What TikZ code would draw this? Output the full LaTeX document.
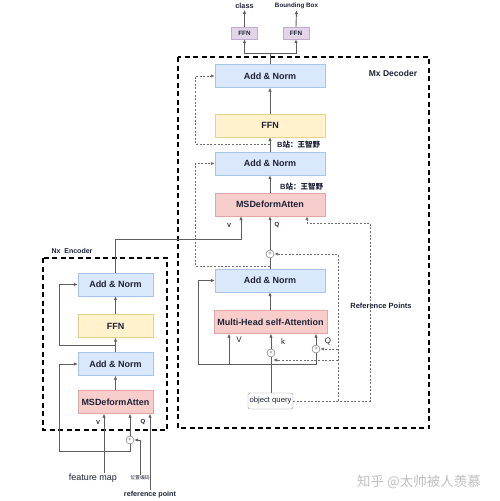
\documentclass[tikz,border=0pt]{standalone}
\usepackage{fontspec}
\setmainfont{Liberation Sans}
\newfontfamily\cjk{Noto Sans CJK SC}
\usetikzlibrary{arrows.meta}

\definecolor{txt}{HTML}{1E2235}
\definecolor{linec}{HTML}{5E5E5E}
\definecolor{dotc}{HTML}{707070}
\definecolor{bluef}{HTML}{DAE8FC}
\definecolor{blued}{HTML}{A9C4EB}
\definecolor{yelf}{HTML}{FFF2CC}
\definecolor{yeld}{HTML}{E8D18E}
\definecolor{pinkf}{HTML}{F8CECC}
\definecolor{pinkd}{HTML}{E3A6A4}
\definecolor{purf}{HTML}{E1D5E7}
\definecolor{purd}{HTML}{C3ABD0}

\tikzstyle{block} = [rectangle, draw, minimum width=110pt, minimum height=23pt, inner sep=1pt, text=txt, font=\bfseries\fontsize{9}{10}\selectfont]
\tikzstyle{norm} = [block, fill=bluef, draw=blued]
\tikzstyle{ffn} = [block, fill=yelf, draw=yeld]
\tikzstyle{atten} = [block, fill=pinkf, draw=pinkd]
\tikzstyle{head} = [rectangle, fill=purf, draw=purd, minimum width=26pt, minimum height=12pt, inner sep=1pt, text=txt, font=\bfseries\fontsize{6.3}{7}\selectfont]
\tikzstyle{plus} = [circle, draw=linec, fill=white, inner sep=0pt, minimum size=8pt, text=linec, font=\fontsize{6}{6}\selectfont]
\tikzstyle{line} = [draw=linec, line width=0.9pt]
\tikzstyle{arr} = [line, -{Latex[length=4pt,width=3.5pt]}]
\tikzstyle{skip} = [draw=dotc, line width=0.8pt, dash pattern=on 2pt off 1.6pt, -{Latex[length=4pt,width=3.5pt]}]
\tikzstyle{frame} = [draw=black, line width=1.4pt, dash pattern=on 5pt off 3.5pt]
\tikzstyle{lbl} = [text=txt, inner sep=1pt, font=\bfseries\fontsize{6}{7}\selectfont]
\tikzstyle{lblr} = [text=txt, inner sep=1pt, font=\fontsize{8}{9}\selectfont]

\begin{document}
\begin{tikzpicture}[x=1pt, y=-1pt]
        \useasboundingbox (0,0) rectangle (500,501);
        % frames
        \draw[frame] (178,57) rectangle (429,428);
        \draw[frame] (43,258) rectangle (167,430);
        \node (mx) at (393,73) [lbl, font=\bfseries\fontsize{8.5}{9}\selectfont] {Mx Decoder};
        \node (nx) at (72,251) [lbl, font=\bfseries\fontsize{7}{8}\selectfont] {Nx\ \ Encoder};

        % decoder
        \node (dan1) at (270,76) [norm] {Add \& Norm};
        \node (dffn) at (270,125.5) [ffn] {FFN};
        \node (dan2) at (270,163.5) [norm] {Add \& Norm};
        \node (dmsd) at (270,204.5) [atten] {MSDeformAtten};
        \node (dplus) at (270,254) [plus] {+};
        \node (dan3) at (270,280.5) [norm] {Add \& Norm};
        \node (mhsa) at (270.5,322) [atten, minimum width=113pt] {Multi-Head self-Attention};
        \node (kplus) at (271,353) [plus] {+};
        \node (qplus) at (316,349) [plus] {+};
        \node (oq) at (270.5,401) [rectangle, rounded corners=2pt, draw=linec!70, fill=white, minimum width=45pt, minimum height=16pt, inner sep=1pt, text=txt, font=\fontsize{7.7}{8}\selectfont] {object query};
        \node (b1) at (276,145) [lbl, anchor=west, font=\bfseries\fontsize{7.5}{8}\selectfont] {B{\cjk\bfseries 站：王智野}};
        \node (b2) at (279,187) [lbl, anchor=west, font=\bfseries\fontsize{7.5}{8}\selectfont] {B{\cjk\bfseries 站：王智野}};
        \node (rps) at (381,306) [lbl, font=\bfseries\fontsize{7.5}{8}\selectfont] {Reference Points};
        \node (dv) at (229,225) [lbl] {V};
        \node (dq) at (277,225) [lbl] {Q};
        \node (mv) at (239,340) [lblr] {V};
        \node (mk) at (283,342) [lblr] {k};
        \node (mq) at (328,341) [lblr] {Q};

        % heads
        \node (ffnc) at (244.5,33) [head] {FFN};
        \node (ffnb) at (296,33) [head] {FFN};
        \node (lcls) at (244.5,6) [lbl, font=\bfseries\fontsize{7.3}{8}\selectfont] {class};
        \node (lbb) at (296.5,6) [lbl, font=\bfseries\fontsize{6.3}{7}\selectfont] {Bounding Box};
        \coordinate (split) at (270,53);
        \draw[line] (dan1.north) -- (split);
        \draw[arr] (split) -| (ffnc.south);
        \draw[arr] (split) -| (ffnb.south);
        \draw[arr] (ffnc.north) -- (lcls.south);
        \draw[arr] (ffnb.north) -- (lbb.south);

        % decoder links
        \draw[arr] (dffn.north) -- (dan1.south);
        \draw[arr] (dan2.north) -- (dffn.south);
        \draw[arr] (dmsd.north) -- (dan2.south);
        \draw[arr] (dplus.north) -- (dmsd.south);
        \draw[line] (dan3.north) -- (dplus.south);
        \draw[arr] (mhsa.north -| dan3.south) -- (dan3.south);
        \coordinate (d1) at (270,144);
        \coordinate (d2) at (270,266);
        \draw[skip] (d1) -- (195,144) |- (dan1.west);
        \draw[skip] (d2) -- (195,266) |- (dan2.west);

        % self-attention inputs
        \coordinate (hb) at (271,364);
        \coordinate (vk) at (229,364);
        \draw[line] (oq.north -| kplus.south) -- (kplus.south);
        \draw[arr] (kplus.north) -- (kplus.north |- mhsa.south);
        \draw[arr] (qplus.north) -- (qplus.north |- mhsa.south);
        \draw[line] (hb) -| (qplus.south);
        \draw[arr] (hb) -- (198,364) |- (dan3.west);
        \draw[arr] (vk) -- (vk |- mhsa.south);

        % reference points
        \coordinate (rj) at (338,401);
        \coordinate (rq) at (338,349);
        \coordinate (rk) at (338,360);
        \coordinate (kpe) at (273,360);
        \draw[skip] (oq.east) -- (370,401) |- (307,223) -- ([xshift=37pt]dmsd.south);
        \draw[skip] (rj) |- (dplus.east);
        \draw[skip] (rq) -- (qplus.east);
        \draw[skip] (rk) -- (kpe);

        % encoder
        \node (ean1) at (115.5,284.5) [norm, minimum width=75pt] {Add \& Norm};
        \node (effn) at (115.5,326) [ffn, minimum width=75pt] {FFN};
        \node (ean2) at (115.5,364) [norm, minimum width=75pt] {Add \& Norm};
        \node (emsd) at (115.5,402) [atten, minimum width=75pt] {MSDeformAtten};
        \node (eplus) at (130,440) [plus] {+};
        \node (ev) at (98,422) [lbl] {V};
        \node (eq) at (143,422) [lbl] {Q};
        \node (fm) at (93,478) [lblr, font=\fontsize{9}{10}\selectfont] {feature map};
        \node (pe) at (140,478) [lblr, font=\cjk\fontsize{4.8}{5}\selectfont] {位置编码};
        \node (rp) at (150,495) [lbl, font=\bfseries\fontsize{7.2}{8}\selectfont] {reference point};

        % encoder links
        \draw[arr] (emsd.north) -- (ean2.south);
        \draw[arr] (ean2.north) -- (effn.south);
        \draw[arr] (effn.north) -- (ean1.south);
        \coordinate (e1) at (116,345);
        \draw[arr] (e1) -- (59,345) |- (ean1.west);
        \draw[arr] (eplus.south) -- (130,451) -- (59,451) |- (ean2.west);
        \draw[arr] (eplus.north) -- (eplus.north |- emsd.south);
        \draw[arr] ([xshift=11pt]fm.north) -- ([xshift=11pt]fm.north |- emsd.south);
        \draw[arr] (pe.north) |- (eplus.east);
        \draw[arr] (rp.north) -- (rp.north |- emsd.south);
        \draw[arr] (ean1.north) |- (241,239) -- ([xshift=-29pt]dmsd.south);

        % watermark
        \node (wm) at (419,482) [text=black!25, font=\cjk\fontsize{13.5}{14}\selectfont] {知乎 @太帅被人羡慕};
\end{tikzpicture}
\end{document}
